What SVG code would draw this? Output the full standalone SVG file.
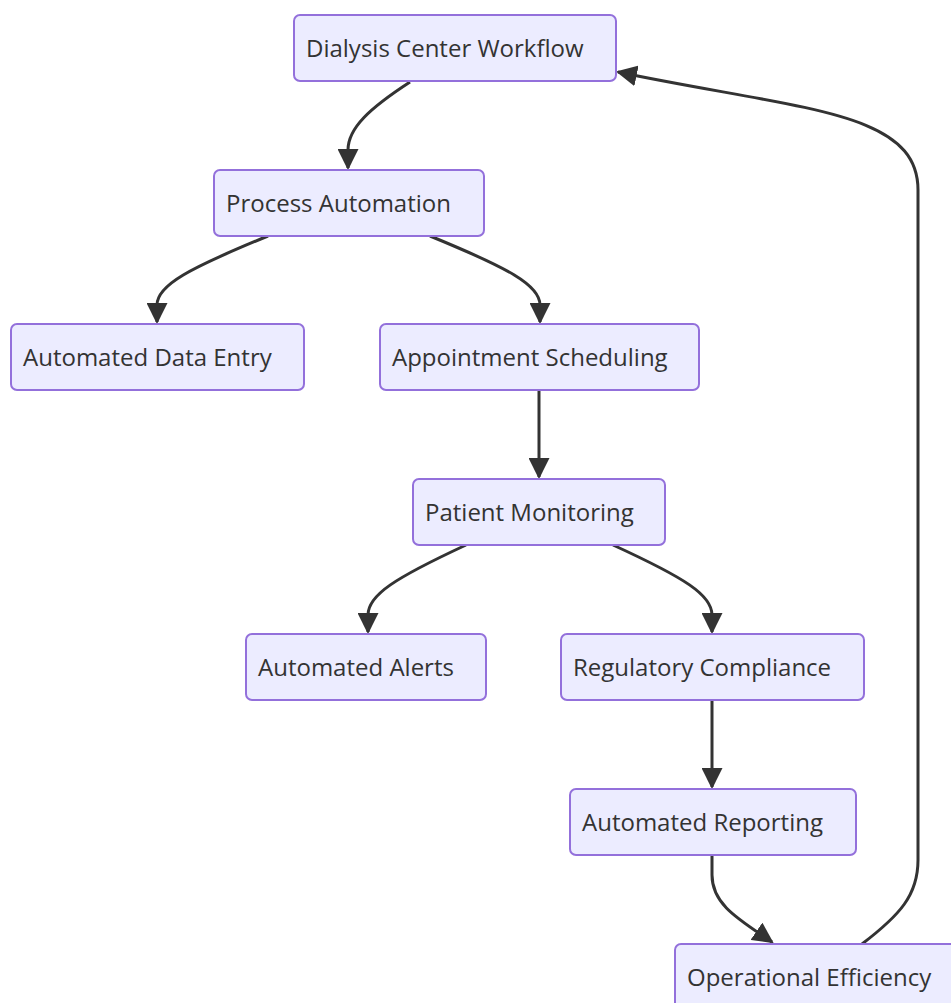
<svg xmlns="http://www.w3.org/2000/svg" width="951" height="1003" viewBox="0 0 951 1003">
  <style>
    .node rect { fill: #ECECFF; stroke: #9370DB; stroke-width: 2; }
    .node text { font-family: "Open Sans", "Noto Sans", sans-serif; font-size: 24px; fill: #333333; }
    .edge { fill: none; stroke: #333333; stroke-width: 3; }
  </style>
  <defs>
    <marker id="arrow" viewBox="0 0 10 10" refX="9" refY="5" markerWidth="7" markerHeight="7" markerUnits="strokeWidth" orient="auto">
      <path d="M0,0 L10,5 L0,10 z" fill="#333333"/>
    </marker>
  </defs>
  <rect width="951" height="1003" fill="#ffffff"/>

  <g id="connectors">
    <path class="edge" d="M410,82 C370,108 348,128 348,150 L348,168" marker-end="url(#arrow)"/>
    <path class="edge" d="M268,236 C190,268 157,285 157,305 L157,322" marker-end="url(#arrow)"/>
    <path class="edge" d="M430,236 C508,268 540,285 540,305 L540,322" marker-end="url(#arrow)"/>
    <path class="edge" d="M539,390 L539,477" marker-end="url(#arrow)"/>
    <path class="edge" d="M466,545 C395,578 368,595 368,615 L368,632" marker-end="url(#arrow)"/>
    <path class="edge" d="M613,545 C685,578 712,595 712,615 L712,632" marker-end="url(#arrow)"/>
    <path class="edge" d="M712,700 L712,787" marker-end="url(#arrow)"/>
    <path class="edge" d="M712,855 L712,875 C712,905 740,920 772,942" marker-end="url(#arrow)"/>
    <path class="edge" d="M862,944 C900,915 918,895 918,860 L918,190 C918,110 800,110 618,72" marker-end="url(#arrow)"/>
  </g>

  <g id="dialysis-center-workflow" class="node">
    <rect x="294" y="15" width="322" height="66" rx="6"/>
    <text x="306" y="57">Dialysis Center Workflow</text>
  </g>
  <g id="process-automation" class="node">
    <rect x="214" y="170" width="270" height="66" rx="6"/>
    <text x="226" y="212">Process Automation</text>
  </g>
  <g id="automated-data-entry" class="node">
    <rect x="11" y="324" width="293" height="66" rx="6"/>
    <text x="23" y="366">Automated Data Entry</text>
  </g>
  <g id="appointment-scheduling" class="node">
    <rect x="380" y="324" width="319" height="66" rx="6"/>
    <text x="392" y="366">Appointment Scheduling</text>
  </g>
  <g id="patient-monitoring" class="node">
    <rect x="413" y="479" width="252" height="66" rx="6"/>
    <text x="425" y="521">Patient Monitoring</text>
  </g>
  <g id="automated-alerts" class="node">
    <rect x="246" y="634" width="240" height="66" rx="6"/>
    <text x="258" y="676">Automated Alerts</text>
  </g>
  <g id="regulatory-compliance" class="node">
    <rect x="561" y="634" width="303" height="66" rx="6"/>
    <text x="573" y="676">Regulatory Compliance</text>
  </g>
  <g id="automated-reporting" class="node">
    <rect x="570" y="789" width="286" height="66" rx="6"/>
    <text x="582" y="831">Automated Reporting</text>
  </g>
  <g id="operational-efficiency" class="node">
    <rect x="675" y="944" width="290" height="66" rx="6"/>
    <text x="687" y="986">Operational Efficiency</text>
  </g>
</svg>
